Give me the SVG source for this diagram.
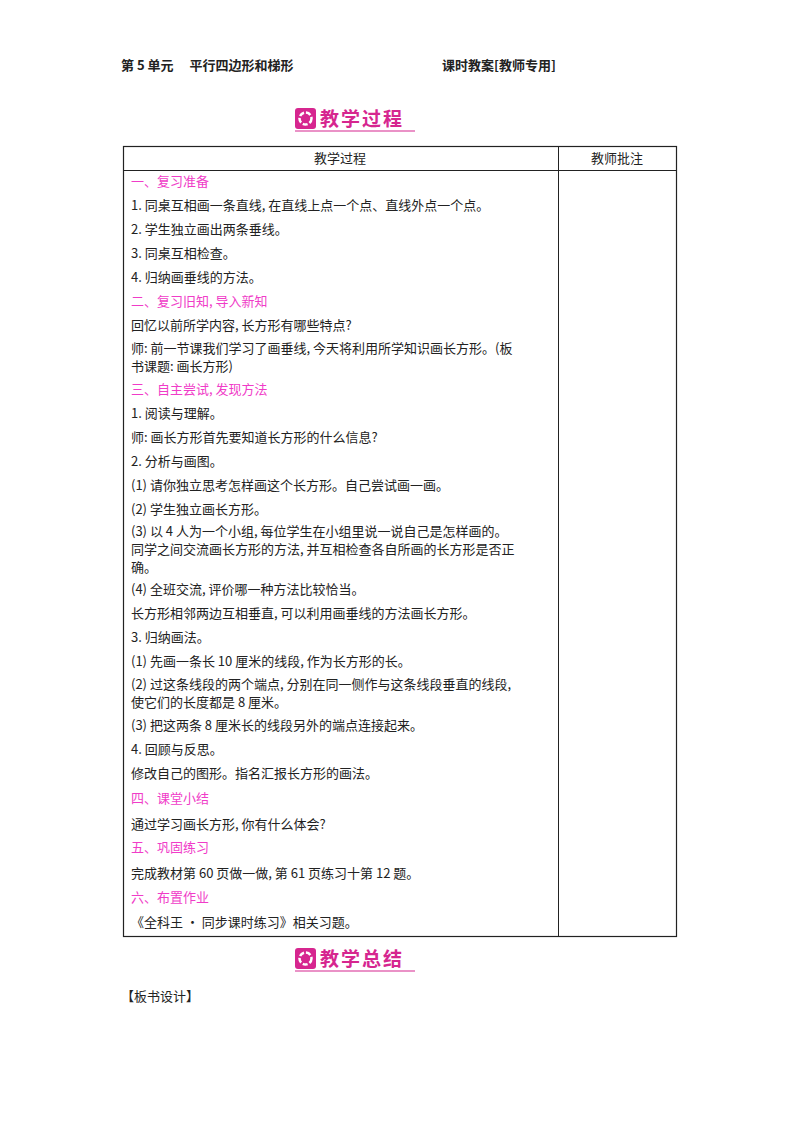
<svg xmlns="http://www.w3.org/2000/svg" width="800" height="1132" viewBox="0 0 800 1132">
<style>
text{font-family:"Noto Sans CJK SC","Liberation Serif",serif;font-size:13px;fill:#222}
.p{fill:#f03cc8}
.h{font-weight:bold;font-size:13px}
.t{font-weight:bold;font-size:19px;fill:#d6268f;letter-spacing:2px}
</style>
<rect width="800" height="1132" fill="#fff"/>
<g id="header">
<text class="h" x="121" y="70">第 5 单元　 平行四边形和梯形</text>
<text class="h" x="442" y="70">课时教案[教师专用]</text>
</g>
<g id="title1">
<rect x="295" y="108" width="21" height="21" rx="3" fill="#d6268f"/>
<circle cx="305.5" cy="118.5" r="6" fill="none" stroke="#fff" stroke-width="2.5" stroke-dasharray="5 2"/>
<text class="t" x="320" y="126">教学过程</text>
<line x1="295" y1="131" x2="415" y2="131" stroke="#d6268f" stroke-width="1.2"/>
</g>
<g id="table" fill="none" stroke="#222">
<rect x="123.5" y="146.5" width="553" height="790" stroke-width="1.2"/>
<line x1="123" y1="170.5" x2="677" y2="170.5"/>
<line x1="558.5" y1="146" x2="558.5" y2="937"/>
</g>
<g id="content">
<text x="340" y="163" text-anchor="middle">教学过程</text>
<text x="617" y="163" text-anchor="middle">教师批注</text>
<text class="p" x="131" y="186">一、复习准备</text>
<text x="131" y="210">1. 同桌互相画一条直线, 在直线上点一个点、直线外点一个点。</text>
<text x="131" y="234">2. 学生独立画出两条垂线。</text>
<text x="131" y="258">3. 同桌互相检查。</text>
<text x="131" y="282">4. 归纳画垂线的方法。</text>
<text class="p" x="131" y="306">二、复习旧知, 导入新知</text>
<text x="131" y="330">回忆以前所学内容, 长方形有哪些特点?</text>
<text x="131" y="353">师: 前一节课我们学习了画垂线, 今天将利用所学知识画长方形。(板</text>
<text x="131" y="371">书课题: 画长方形)</text>
<text class="p" x="131" y="394">三、自主尝试, 发现方法</text>
<text x="131" y="418">1. 阅读与理解。</text>
<text x="131" y="442">师: 画长方形首先要知道长方形的什么信息?</text>
<text x="131" y="466">2. 分析与画图。</text>
<text x="131" y="490">(1) 请你独立思考怎样画这个长方形。自己尝试画一画。</text>
<text x="131" y="514">(2) 学生独立画长方形。</text>
<text x="131" y="536">(3) 以 4 人为一个小组, 每位学生在小组里说一说自己是怎样画的。</text>
<text x="131" y="554">同学之间交流画长方形的方法, 并互相检查各自所画的长方形是否正</text>
<text x="131" y="572">确。</text>
<text x="131" y="594">(4) 全班交流, 评价哪一种方法比较恰当。</text>
<text x="131" y="618">长方形相邻两边互相垂直, 可以利用画垂线的方法画长方形。</text>
<text x="131" y="642">3. 归纳画法。</text>
<text x="131" y="666">(1) 先画一条长 10 厘米的线段, 作为长方形的长。</text>
<text x="131" y="689">(2) 过这条线段的两个端点, 分别在同一侧作与这条线段垂直的线段,</text>
<text x="131" y="707">使它们的长度都是 8 厘米。</text>
<text x="131" y="730">(3) 把这两条 8 厘米长的线段另外的端点连接起来。</text>
<text x="131" y="754">4. 回顾与反思。</text>
<text x="131" y="778">修改自己的图形。指名汇报长方形的画法。</text>
<text class="p" x="131" y="803">四、课堂小结</text>
<text x="131" y="829">通过学习画长方形, 你有什么体会?</text>
<text class="p" x="131" y="852">五、巩固练习</text>
<text x="131" y="878">完成教材第 60 页做一做, 第 61 页练习十第 12 题。</text>
<text class="p" x="131" y="902">六、布置作业</text>
<text x="131" y="927">《全科王 • 同步课时练习》相关习题。</text>
</g>
<g id="title2">
<rect x="295" y="948" width="21" height="21" rx="3" fill="#d6268f"/>
<circle cx="305.5" cy="958.5" r="6" fill="none" stroke="#fff" stroke-width="2.5" stroke-dasharray="5 2"/>
<text class="t" x="320" y="966">教学总结</text>
<line x1="295" y1="971" x2="415" y2="971" stroke="#d6268f" stroke-width="1.2"/>
</g>
<text id="board" x="121" y="1001">【板书设计】</text>
</svg>
